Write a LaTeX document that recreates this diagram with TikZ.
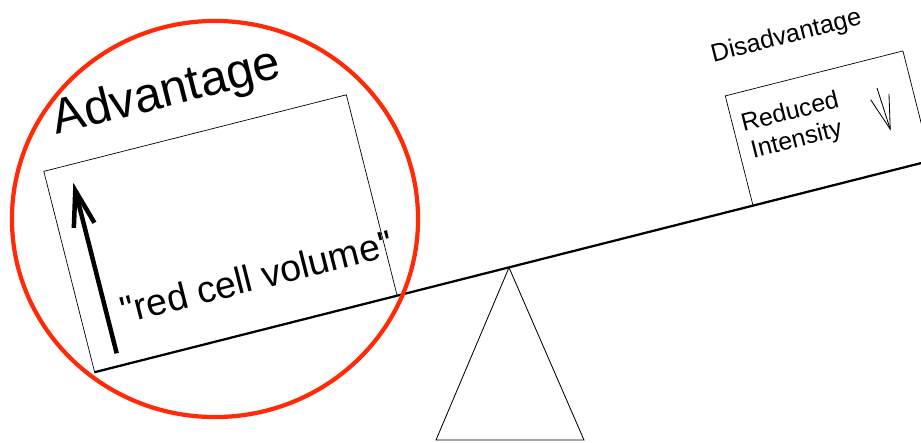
\documentclass[tikz,border=0pt]{standalone}
\usepackage{fontspec}
\setmainfont{Liberation Sans}
\usepackage{xcolor}
\usetikzlibrary{arrows.meta,positioning,shapes.geometric}
\definecolor{ink}{HTML}{000000}
\definecolor{ringred}{HTML}{FF2A08}

\begin{document}
\begin{tikzpicture}[
  x=0.025cm, y=-0.025cm,
  weightbox/.style={draw=ink, line width=0.5pt, rotate=14.2, anchor=south west, inner sep=0pt},
  tilted/.style={rotate=14.2, inner sep=0pt, text=ink},
  beam/.style={draw=ink, line width=1.6pt},
  bigarrow/.style={-{Straight Barb[length=0.9cm, width=0.53cm]}, line width=3.2pt, draw=ink},
  thinarrow/.style={-{Straight Barb[length=0.85cm, width=0.48cm]}, line width=0.6pt, draw=ink}
]
\useasboundingbox (0,0) rectangle (921,442);
\clip (0,0) rectangle (921,442);

\coordinate (beamL) at (94.3,372.3);
\coordinate (beamR) at (940,158.3);
\coordinate (apex) at (509,267.5);
\coordinate (baseL) at (436,440);
\coordinate (baseR) at (584,440);

\draw[line width=0.6pt, draw=ink] (apex) -- (baseL) -- (baseR) -- cycle;
\draw[beam] (beamL) -- (beamR);

\node[weightbox, minimum width=7.8cm, minimum height=5.17cm] (advbox) at (beamL) {};
\node[weightbox, minimum width=4.58cm, minimum height=2.82cm] (disbox) at (752.7,205.7) {};

\coordinate (upfoot) at (116.7,353.3);
\coordinate (uptip) at (73.3,182.7);
\draw[bigarrow] (upfoot) -- (uptip);

\coordinate (downtop) at (877,88);
\coordinate (downtip) at (890.7,130.7);
\draw[thinarrow] (downtop) -- (downtip);

\node[tilted, anchor=base, font=\fontsize{34.8}{40}\selectfont] (advlabel) at (169.9,106) {Advantage};
\node[tilted, anchor=base, font=\fontsize{26.7}{31}\selectfont] (rcv) at (260.1,289.6) {\textquotedbl red cell volume\textquotedbl};
\node[tilted, anchor=base, font=\fontsize{17.9}{21}\selectfont] (dislabel) at (788,43.4) {Disadvantage};
\node[tilted, anchor=base west, font=\fontsize{17.7}{20.3}\selectfont] (reduced) at (743.3,131.7) {Reduced};
\node[tilted, anchor=base west, font=\fontsize{17.7}{20.3}\selectfont] (intensity) at (753.2,158.6) {Intensity};

\node[ellipse, draw=ringred, line width=3pt, minimum width=10.15cm, minimum height=9.9cm] (ring) at (215,219) {};

\end{tikzpicture}
\end{document}
